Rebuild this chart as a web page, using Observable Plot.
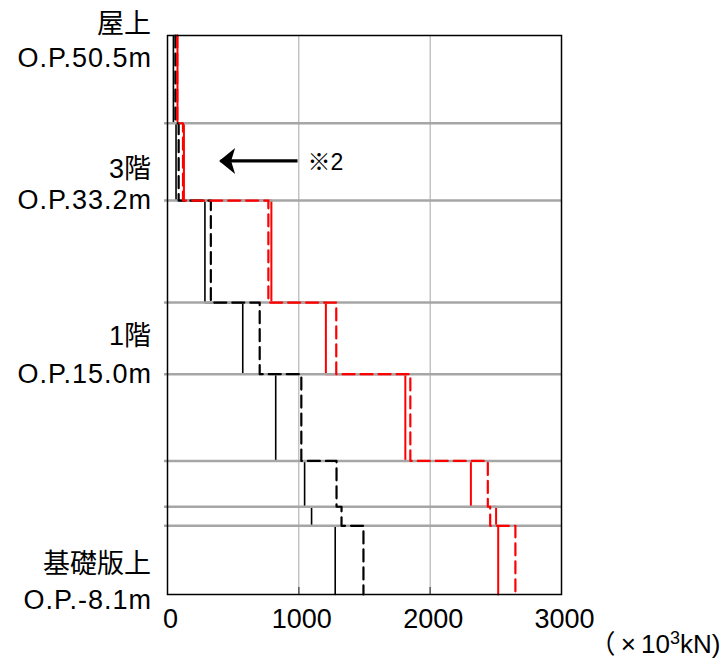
<!DOCTYPE html>
<html><head><meta charset="utf-8">
<script src="https://cdn.jsdelivr.net/npm/d3@7"></script>
<script src="https://cdn.jsdelivr.net/npm/@observablehq/plot@0.6"></script>
<style>
body{margin:0;background:#fff;}
.oplab text{letter-spacing:1px;}
</style></head><body><div id="chart"></div>
<script>
// Floor boundary levels (O.P. m), top to bottom
const levels = [50.5, 41.3, 33.2, 22.5, 15.0, 5.9, 1.1, -0.9, -8.1];
// Story values (×10^3 kN), one per story between consecutive levels
const blackSolid  = [45, 65, 285, 573, 824, 1044, 1097, 1277];
const blackDashed = [60, 85, 330, 702, 1019, 1287, 1325, 1492];
const redSolid    = [76, 125, 791, 1206, 1811, 2310, 2502, 2518];
const redDashed   = [74, 118, 768, 1285, 1849, 2439, 2457, 2649];
const xTicks = [0, 1000, 2000, 3000];
const xGrid = [1000, 2000];
const labelLevels = [50.5, 33.2, 15.0, -8.1];
const labelNames = ["屋上", "3階", "1階", "基礎版上"];
const labelOPs = ["O.P.50.5m", "O.P.33.2m", "O.P.15.0m", "O.P.-8.1m"];
const unitPre = "（\u2009×\u200910";
const unitSup = "3";
const unitPost = "kN)";
const noteLabel = "※2";
const arrowY = 37.35;
const arrowFrom = 990;
const arrowTo = 393;

function steps(vals) {
  const pts = [];
  vals.forEach((v, i) => {
    pts.push({x: v, y: levels[i]});
    pts.push({x: v, y: levels[i + 1]});
  });
  return pts;
}

// layout offsets (px) for two-line level labels: [name line, O.P. line]
const labelDy = [[-11.5, 22.5], [-31, 0], [-37.5, 0], [-30.5, 5.5]];

const arrowHead = {
  draw(ctx) {
    ctx.moveTo(0, 0);
    ctx.lineTo(16, -13);
    ctx.lineTo(12, 0);
    ctx.lineTo(16, 13);
    ctx.closePath();
  }
};

const labelMarks = [];
labelLevels.forEach((lv, i) => {
  labelMarks.push(Plot.text([lv], {y: d => d, text: () => labelNames[i], frameAnchor: "left", dx: -16.5, dy: labelDy[i][0], textAnchor: "end", fontSize: 27}));
  labelMarks.push(Plot.text([lv], {y: d => d, text: () => labelOPs[i], frameAnchor: "left", dx: -15.5, dy: labelDy[i][1], textAnchor: "end", fontSize: 27, className: "oplab"}));
});

const chart = Plot.plot({
  width: 724,
  height: 664,
  marginLeft: 167,
  marginRight: 163,
  marginTop: 35,
  marginBottom: 70,
  style: {fontFamily: "'Liberation Sans', 'Noto Sans CJK JP', sans-serif", fontSize: "27px", background: "#fff", overflow: "visible"},
  x: {domain: [0, 3000], axis: null},
  y: {domain: [-8.1, 50.5], axis: null},
  marks: [
    Plot.ruleX(xGrid, {stroke: "#a6a6a6", strokeWidth: 1}),
    Plot.ruleX(xGrid, {insetTop: 552, stroke: "#595959", strokeWidth: 1.5}),
    Plot.line(steps(blackSolid), {x: "x", y: "y", stroke: "black", strokeWidth: 1.6}),
    Plot.line(steps(redSolid), {x: "x", y: "y", stroke: "red", strokeWidth: 2}),
    Plot.ruleY(levels.slice(1, -1), {stroke: "#a6a6a6", strokeWidth: 2.5, insetLeft: -3}),
    Plot.line(steps(blackDashed), {x: "x", y: "y", stroke: "black", strokeWidth: 2.2, strokeDasharray: "12,6"}),
    Plot.line(steps(redDashed), {x: "x", y: "y", stroke: "red", strokeWidth: 2.2, strokeDasharray: "12,6"}),
    Plot.frame({stroke: "black", strokeWidth: 1.5}),
    Plot.link([{x1: arrowFrom, x2: arrowTo + 12, y: arrowY}], {x1: "x1", x2: "x2", y1: "y", y2: "y", stroke: "black", strokeWidth: 3.3}),
    Plot.dot([{x: arrowTo, y: arrowY}], {x: "x", y: "y", symbol: arrowHead, fill: "black", stroke: "none"}),
    Plot.text([{x: arrowFrom, y: arrowY, t: noteLabel}], {x: "x", y: "y", text: "t", dx: 10, dy: 2, textAnchor: "start", fontSize: 23}),
    ...labelMarks,
    Plot.text(xTicks, {x: d => d, text: d => String(d), frameAnchor: "bottom", dy: 33.5, dx: 3, fontSize: 27}),
    Plot.text([unitPre + unitSup + unitPost], {text: d => d, frameAnchor: "bottom-right", dx: 28, dy: 58.5, textAnchor: "start", fontSize: 26, className: "unitlab"})
  ]
});
document.getElementById("chart").append(chart);
// render the exponent as a real superscript
const ut = chart.querySelector(".unitlab text");
if (ut) {
  const ns = "http://www.w3.org/2000/svg";
  ut.textContent = "";
  const a = document.createElementNS(ns, "tspan"); a.textContent = unitPre;
  const b = document.createElementNS(ns, "tspan"); b.textContent = unitSup;
  b.setAttribute("dy", "-9"); b.setAttribute("font-size", "18");
  const c = document.createElementNS(ns, "tspan"); c.textContent = unitPost;
  c.setAttribute("dy", "9");
  ut.append(a, b, c);
}
</script>
</body></html>
